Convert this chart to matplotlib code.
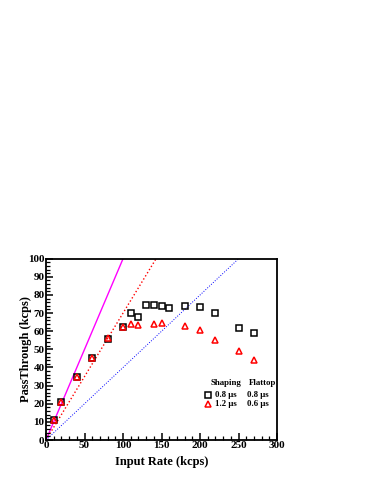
import numpy as np
import matplotlib.pyplot as plt
from matplotlib.ticker import MultipleLocator

plt.rcParams['font.family'] = ['Liberation Serif', 'DejaVu Serif']
plt.rcParams['font.weight'] = 'bold'

# measured pass-through, shaping 0.8 us / flattop 0.8 us
rate_sq = [10, 20, 40, 60, 80, 100, 110, 120, 130, 140, 150, 160, 180, 200, 220, 250, 270]
pass_sq = [11, 21, 34.5, 45.5, 55.5, 62.5, 70.3, 68, 74.4, 74.4, 73.8, 72.7, 73.8, 73.4, 70.2, 62, 58.8]

# shaping 1.2 us / flattop 0.6 us
rate_tr = [10, 20, 40, 60, 80, 100, 110, 120, 140, 150, 180, 200, 220, 250, 270]
pass_tr = [11, 21, 35, 45.5, 56.5, 62.5, 64, 63.2, 63.8, 64.5, 63, 60.8, 55, 49, 44.3]

# reference lines y = k * x
slopes = [1.0, 0.7, 0.4]
line_colors = ['magenta', 'red', 'blue']
line_styles = ['-', ':', ':']
line_widths = [1.0, 1.0, 0.7]

fig = plt.figure(figsize=(3.74, 4.84), dpi=100)
ax = fig.add_axes([0.123, 0.0909, 0.618, 0.3746])

xs = np.array([0, 300])
for k, c, ls, lw in zip(slopes, line_colors, line_styles, line_widths):
    ax.plot(xs, k * xs, color=c, ls=ls, lw=lw, zorder=1)

ax.plot(rate_sq, pass_sq, ls='none', marker='s', ms=4, mfc='none', mec='black', mew=1.1, zorder=3)
ax.plot(rate_tr, pass_tr, ls='none', marker='^', ms=4.3, mfc='none', mec='red', mew=1.1, zorder=3)

ax.set_xlim(0, 300)
ax.set_ylim(0, 100)
ax.xaxis.set_major_locator(MultipleLocator(50))
ax.xaxis.set_minor_locator(MultipleLocator(10))
ax.yaxis.set_major_locator(MultipleLocator(10))
ax.yaxis.set_minor_locator(MultipleLocator(2))
ax.tick_params(which='both', direction='in', labelsize=8, pad=1)
ax.tick_params(which='major', length=5, width=1.1)
ax.tick_params(which='minor', length=3, width=0.9)
for lbl in ax.get_xticklabels() + ax.get_yticklabels():
    lbl.set_fontweight('bold')
for s in ax.spines.values():
    s.set_linewidth(1.3)

ax.set_xlabel('Input Rate (kcps)', fontsize=9, fontweight='bold', labelpad=4)
ax.set_ylabel('PassThrough (kcps)', fontsize=9, fontweight='bold', labelpad=-3)

# legend as a small table
ax.text(0.777, 0.313, 'Shaping', transform=ax.transAxes, fontsize=6.3, fontweight='bold',
        ha='center', va='center')
ax.text(0.935, 0.313, 'Flattop', transform=ax.transAxes, fontsize=6.3, fontweight='bold',
        ha='center', va='center')
rows = [('s', 'black', '0.8 µs', '0.8 µs'), ('^', 'red', '1.2 µs', '0.6 µs')]
for i, (m, c, sh, ft) in enumerate(rows):
    yy = 0.247 - i * 0.049
    ax.plot([0.70], [yy], transform=ax.transAxes, marker=m, ms=4, mfc='none', mec=c, mew=1.1, ls='none')
    ax.text(0.777, yy, sh, transform=ax.transAxes, fontsize=6.3, fontweight='bold', ha='center', va='center')
    ax.text(0.918, yy, ft, transform=ax.transAxes, fontsize=6.3, fontweight='bold', ha='center', va='center')

fig.savefig('out.png', dpi=100)
